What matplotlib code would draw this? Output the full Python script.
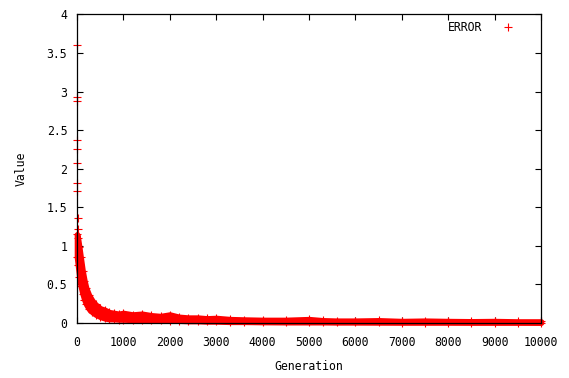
import matplotlib

matplotlib.use("Agg")
import matplotlib.pyplot as plt
import numpy as np

# Early generations: isolated error values above the main band
EARLY_GEN = [1, 2, 3, 4, 5, 6, 8, 10, 12, 15]
EARLY_ERR = [3.60, 2.93, 2.88, 2.37, 2.26, 2.07, 1.82, 1.71, 1.36, 1.22]

# Spread of the error per generation (lower / upper envelope of the samples)
BAND_GEN = [0, 20, 50, 80, 120, 160, 200, 260, 330, 400, 500, 600, 700, 800,
            900, 1000, 1200, 1400, 1600, 1800, 2000, 2200, 2400, 2600, 2800,
            3000, 3300, 3600, 4000, 4500, 5000, 5300, 5600, 6000, 6500, 7000,
            7500, 8000, 8500, 9000, 9500, 10000]
BAND_LOW = [0.85, 0.75, 0.60, 0.48, 0.38, 0.30, 0.24, 0.18, 0.14, 0.11, 0.08,
            0.06, 0.05, 0.05, 0.045, 0.045, 0.04, 0.04, 0.035, 0.035, 0.03,
            0.03, 0.025, 0.025, 0.02, 0.02, 0.015, 0.015, 0.012, 0.01, 0.01,
            0.01, 0.008, 0.008, 0.007, 0.006, 0.006, 0.006, 0.005, 0.005,
            0.005, 0.004]
BAND_HIGH = [1.15, 1.10, 0.98, 0.85, 0.68, 0.55, 0.45, 0.36, 0.29, 0.24,
             0.19, 0.17, 0.14, 0.13, 0.12, 0.13, 0.11, 0.12, 0.10, 0.09,
             0.11, 0.08, 0.07, 0.07, 0.06, 0.065, 0.05, 0.045, 0.04, 0.04,
             0.05, 0.035, 0.03, 0.03, 0.035, 0.025, 0.03, 0.025, 0.022,
             0.025, 0.02, 0.02]

RED = "#ff0000"
plt.rcParams["font.family"] = "DejaVu Sans Mono"
plt.rcParams["font.size"] = 8.3

fig = plt.figure(figsize=(5.69, 3.78), dpi=100)
ax = fig.add_axes([0.1353, 0.1455, 0.8155, 0.8165])

mk = dict(marker="+", linestyle="none", color=RED, markersize=5.5,
          markeredgewidth=0.8, clip_on=False)

# dense band of samples; the thick outline stands in for the marker height
ax.fill_between(BAND_GEN, BAND_LOW, BAND_HIGH, color=RED, linewidth=4.0,
                edgecolor=RED, zorder=2, clip_on=False)
ax.plot(BAND_GEN, BAND_HIGH, **mk, zorder=3)
ax.plot(BAND_GEN, BAND_LOW, **mk, zorder=3)
ax.plot(EARLY_GEN, EARLY_ERR, **mk, zorder=3)

ax.set_xlim(0, 10000)
ax.set_ylim(0, 4)
ax.set_xticks(np.arange(0, 10001, 1000))
ax.set_yticks(np.arange(0, 4.01, 0.5))
ax.set_yticklabels(["0", "0.5", "1", "1.5", "2", "2.5", "3", "3.5", "4"])
ax.tick_params(direction="in", length=4, width=0.8, top=True, right=True,
               colors="black")
ax.tick_params(axis="x", pad=9)
ax.tick_params(axis="y", pad=7)
for s in ax.spines.values():
    s.set_linewidth(0.9)
    s.set_zorder(5)

ax.set_xlabel("Generation", labelpad=8)
ax.set_ylabel("Value", labelpad=14)

# gnuplot-style key: label then sample marker, no frame
ax.text(0.873, 0.958, "ERROR", transform=ax.transAxes, ha="right",
        va="center")
ax.plot([0.929], [0.958], transform=ax.transAxes, **mk)

fig.savefig("out.png", dpi=100)
